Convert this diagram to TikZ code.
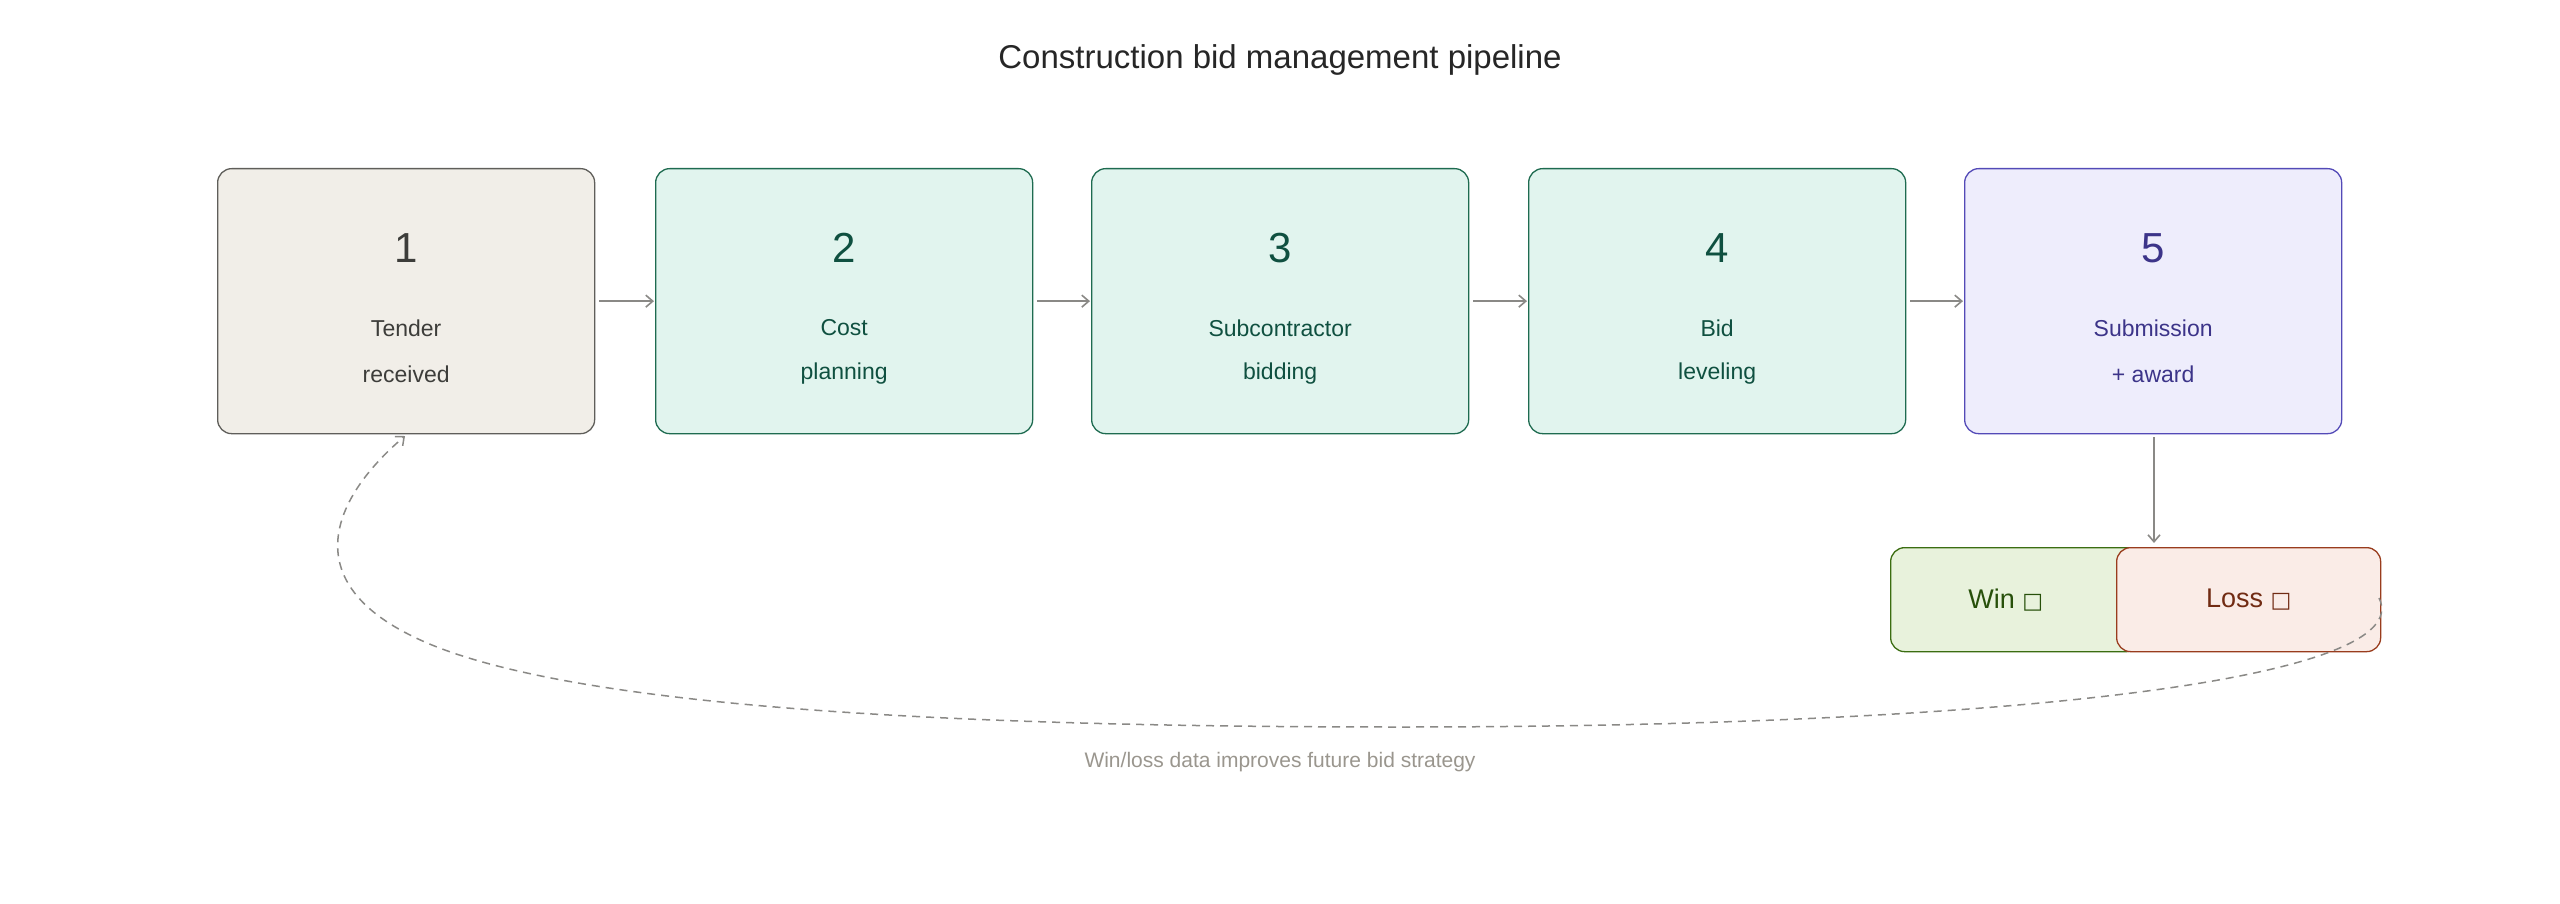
\documentclass[tikz,border=0pt]{standalone}
\usepackage{fontspec}
\setmainfont{Liberation Sans}
\newfontfamily\dvs{DejaVu Sans}
\usetikzlibrary{arrows.meta}
\definecolor{c1f}{HTML}{F1EEE8}\definecolor{c1d}{HTML}{5F5E5A}\definecolor{c1t}{HTML}{3D3D3A}
\definecolor{c2f}{HTML}{E1F4EE}\definecolor{c2d}{HTML}{1E6B50}\definecolor{c2t}{HTML}{0F5040}
\definecolor{c5f}{HTML}{EEEDFC}\definecolor{c5d}{HTML}{534AB7}\definecolor{c5t}{HTML}{3C3489}
\definecolor{cwf}{HTML}{E8F2DC}\definecolor{cwd}{HTML}{3B6D11}\definecolor{cwt}{HTML}{27500A}
\definecolor{clf}{HTML}{FAECE7}\definecolor{cld}{HTML}{993C1D}\definecolor{clt}{HTML}{712B13}
\definecolor{arr}{HTML}{8A8986}\definecolor{lab}{HTML}{9A968E}
\begin{document}
\begin{tikzpicture}[x=1pt,y=-1pt,
 box/.style={draw,line width=1.3pt,rounded corners=14pt,minimum width=377pt,minimum height=265pt,inner sep=0pt,anchor=north west},
 num/.style={font=\fontsize{42}{42}\selectfont},
 txt/.style={font=\fontsize{23}{23}\selectfont,align=center},
 res/.style={draw,line width=1.3pt,rounded corners=14pt,minimum height=104pt,inner sep=0pt,anchor=north west,font=\fontsize{27}{27}\selectfont},
 flow/.style={draw=arr,line width=1.6pt,-{Straight Barb[length=7pt,width=12pt]}}]
\useasboundingbox (0,0) rectangle (2560,904);
\node[font=\fontsize{33}{33}\selectfont,text=black!85] (title) at (1280,60) {Construction bid management pipeline};
\node[box,fill=c1f,draw=c1d] (b1) at (217,168) {};
\node[box,fill=c2f,draw=c2d] (b2) at (655,168) {};
\node[box,fill=c2f,draw=c2d] (b3) at (1091,168) {};
\node[box,fill=c2f,draw=c2d] (b4) at (1528,168) {};
\node[box,fill=c5f,draw=c5d] (b5) at (1964,168) {};
\foreach \b/\n/\a/\c/\t in {b1/1/Tender/received/c1t,b2/2/Cost/planning/c2t,b3/3/Subcontractor/bidding/c2t,b4/4/Bid/leveling/c2t,b5/5/Submission/+ award/c5t}{
 \node[num,text=\t] (\b n) at ([yshift=-80pt]\b.north) {\n};
 \node[txt,text=\t] (\b a) at ([yshift=-160pt]\b.north) {\a};
 \node[txt,text=\t] (\b c) at ([yshift=-206pt]\b.north) {\c};
}
\foreach \a/\b in {b1/b2,b2/b3,b3/b4,b4/b5}{\draw[flow] ([xshift=4pt]\a.east) -- ([xshift=-1pt]\b.west);}
\node[res,fill=cwf,draw=cwd,text=cwt,minimum width=250pt] (win) at (1890,547) {\hspace*{-20pt}Win {\dvs\fontsize{22}{22}\selectfont □}};
\node[res,fill=clf,draw=cld,text=clt,minimum width=264pt] (loss) at (2116,547) {Loss {\dvs\fontsize{22}{22}\selectfont □}};
\coordinate (top) at (2154,437);
\coordinate (bot) at (2154,543);
\draw[flow] (top) -- (bot);
\coordinate (ls) at (2379,598);
\coordinate (le) at (405,436);
\draw[draw=arr,line width=1.5pt,dash pattern=on 8pt off 6pt,-{Straight Barb[length=7pt,width=12pt]}]
 (ls) .. controls (2420,680) and (2000,727) .. (1400,727)
 .. controls (1000,727) and (560,712) .. (410,635)
 .. controls (300,580) and (330,500) .. (le);
\node[font=\fontsize{21}{21}\selectfont,text=lab] (note) at (1280,762) {Win/loss data improves future bid strategy};
\end{tikzpicture}
\end{document}
